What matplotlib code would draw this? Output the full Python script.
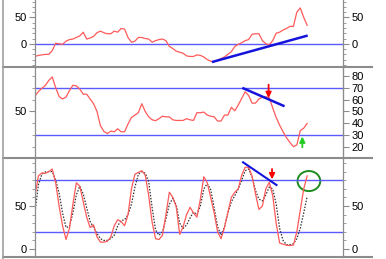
import matplotlib
matplotlib.use("Agg")
import matplotlib.pyplot as plt
from matplotlib import patches
from matplotlib.lines import Line2D
from matplotlib.ticker import MultipleLocator, FixedLocator
import numpy as np

plt.rcParams['font.family'] = ['Liberation Sans', 'DejaVu Sans']

## data, one value per bar
momentum = [-24, -22, -21, -20, -20, -13, 1, 0, -1, 5,
            8, 9, 12, 15, 22, 9, 11, 14, 21, 24,
            21, 19, 19, 24, 22, 29, 28, 12, 3, 5,
            12, 12, 10, 9, 3, 6, 8, 9, 6, -5,
            -9, -14, -16, -18, -23, -24, -24, -21, -22, -25,
            -30, -33, -34, -31, -28, -25, -20, -15, -5, -1,
            2, 6, 8, 18, 19, 19, 6, 0, -2, 6,
            20, 22, 26, 29, 33, 33, 60, 68, 50, 35]

rsi = [63, 66.7, 69.5, 71.8, 76, 79, 70, 62.5, 60.5, 62,
       67.5, 72, 71.5, 68.8, 64.5, 64.5, 60.5, 56.5, 50, 38,
       33.3, 31.5, 33.5, 33, 35.5, 33, 33, 39.5, 45, 47,
       49, 56.5, 50, 45.5, 43, 42.3, 44, 46, 45.5, 45.5,
       43, 42.5, 42.5, 42.5, 44, 43, 42.5, 49, 49, 49.5,
       47, 46, 45.5, 42, 42, 47, 47, 53.5, 50.6, 55.4,
       61, 66.5, 63.5, 57, 57, 60.5, 62, 62.4, 61.5, 53,
       45, 38.6, 33, 28, 24, 20.5, 22, 34, 36, 40]

stoch_k = [62, 85, 88.5, 88, 90, 93, 77, 50, 27, 11,
           24, 52, 77, 73, 55, 37, 25, 28, 14, 8,
           8, 9, 14, 27, 34, 32, 27, 40, 70, 87,
           89, 91, 86, 62, 31, 12, 11, 16, 40, 66,
           60, 49, 17, 26, 40, 48.5, 42, 37, 58, 84,
           77, 60, 42, 20, 12, 25, 43, 60, 66, 70,
           86, 95, 95, 85, 64, 46, 50, 70, 77.5, 62,
           30, 7, 5.5, 4.5, 4, 4.5, 20, 45, 70, 85]

stoch_d = [43, 75, 87, 89.5, 90, 90, 80, 65, 42, 25,
           26, 42, 63, 73, 64, 48, 32, 25, 18, 12,
           10, 10, 12, 16, 27, 33, 34, 40, 52, 72,
           87, 90, 88, 78, 48, 22, 16, 20, 35, 52,
           59, 51, 30, 24, 28, 36, 43, 40, 50, 70,
           76, 69, 48, 26, 16, 26, 42, 55, 62, 70,
           80, 91, 93, 84, 68, 58, 56, 63, 72, 70,
           52, 24, 10, 5, 5, 6, 12, 24, 42, 61]

## trendlines / annotations (bar, value)
top_trend = [(51.7, -34), (78.8, 15)]
mid_trend = [(60.5, 69.4), (72.1, 54.8)]
bot_trend = [(60.4, 100.8), (70.1, 74.4)]

bars = np.arange(len(momentum))

red = '#ff5a5a'
hblue = '#5a5aff'
tblue = '#1414dc'
gray = '#8c8c8c'

fig = plt.figure(figsize=(3.86, 2.59), dpi=100)
fig.patch.set_facecolor('white')

W, H = 386, 259
def axes_at(top, bottom):
    return fig.add_axes([35 / W, (H - bottom) / H, 308 / W, (bottom - top) / H])

ax1 = axes_at(0, 67)
ax2 = axes_at(67, 158)
ax3 = axes_at(158, 257)

for ax in (ax1, ax2, ax3):
    ax.set_xlim(0, 89.4)
    ax.set_xticks([])
    for s in ('top', 'bottom'):
        ax.spines[s].set_visible(False)
    for s in ('left', 'right'):
        ax.spines[s].set_color(gray)
        ax.spines[s].set_linewidth(0.9)
    ax.tick_params(axis='y', which='both', left=True, right=True,
                   labelleft=True, labelright=True, colors=gray,
                   labelcolor='black', labelsize=8)
    ax.tick_params(axis='y', which='major', length=4, pad=2)
    ax.tick_params(axis='y', which='minor', length=2)
    ax.set_facecolor('white')

def arrow(ax, x, y0, y1, color):
    ax.annotate('', xy=(x, y1), xytext=(x, y0),
                arrowprops=dict(arrowstyle='-|>', color=color, lw=1.3,
                                mutation_scale=8, shrinkA=0, shrinkB=0))

## top panel
ax1.set_ylim(-44, 83)
ax1.yaxis.set_major_locator(FixedLocator([0, 50]))
ax1.yaxis.set_minor_locator(MultipleLocator(10))
ax1.axhline(0, color=hblue, lw=1)
ax1.plot(bars, momentum, color=red, lw=0.9)
ax1.plot(*zip(*top_trend), color=tblue, lw=1.8)

## middle panel
ax2.set_ylim(11, 87.3)
ax2.set_yticks([50])
ax2.yaxis.set_minor_locator(MultipleLocator(10))
ax2r = ax2.secondary_yaxis('right')
ax2.tick_params(axis='y', which='both', labelright=False, right=False)
ax2r.set_yticks(range(20, 90, 10))
ax2r.spines['right'].set_color(gray)
ax2r.tick_params(axis='y', colors=gray, labelcolor='black', labelsize=8, length=4, pad=2)
for lvl in (70, 30):
    ax2.axhline(lvl, color=hblue, lw=1)
ax2.plot(bars, rsi, color=red, lw=0.9)
ax2.plot(*zip(*mid_trend), color=tblue, lw=1.8)
arrow(ax2, 67.8, 72.5, 61.3, 'red')
arrow(ax2, 77.6, 20, 29, '#22cc22')

## bottom panel
ax3.set_ylim(-9.3, 105.8)
ax3.yaxis.set_major_locator(FixedLocator([0, 50]))
ax3.yaxis.set_minor_locator(MultipleLocator(10))
for lvl in (80, 20):
    ax3.axhline(lvl, color=hblue, lw=1)
ax3.plot(bars, stoch_d, color='#333333', lw=0.9, ls=(0, (1.2, 1.2)))
ax3.plot(bars, stoch_k, color=red, lw=0.9)
ax3.plot(*zip(*bot_trend), color=tblue, lw=1.5)
arrow(ax3, 68.8, 93, 81, 'red')
ax3.add_patch(patches.Ellipse((79.5, 79), 6.6, 23.3, fill=False,
                              edgecolor='#1e8c1e', lw=1.4))

## panel separators and left frame line
for y in (67, 158, 257):
    fig.add_artist(Line2D([3 / W, 372 / W], [(H - y) / H] * 2,
                          transform=fig.transFigure, color='#8c8c8c', lw=1.5))
fig.add_artist(Line2D([3 / W, 3 / W], [0, 1], transform=fig.transFigure,
                      color='#a0a0a0', lw=1.2))

fig.savefig('out.png', dpi=100)
